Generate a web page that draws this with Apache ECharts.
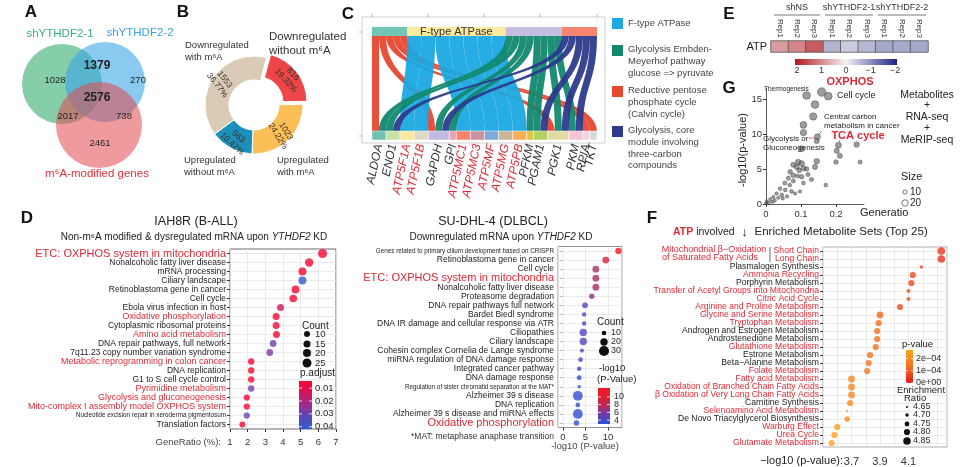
<!DOCTYPE html>
<html><head><meta charset="utf-8"><title>Figure</title>
<script src="https://cdn.jsdelivr.net/npm/echarts@6/dist/echarts.min.js"></script>
<style>html,body{margin:0;padding:0;background:#fff;}#chart{width:960px;height:467px;}</style>
</head><body><div id="chart"></div>
<script>
// ======================= DATA =======================
// A: Venn
const vennSetNames = ['shYTHDF2-1', 'shYTHDF2-2', 'm⁶A-modified genes'];
const vennRegionKeys = ['1', '2', '3', '12', '13', '23', '123'];
const vennRegionCounts = [1028, 270, 2461, 1379, 2017, 738, 2576];

// B: donut
const pieCategories = ['Downregulated without m⁶A', 'Upregulated with m⁶A', 'Upregulated without m⁶A', 'Downregulated with m⁶A'];
const pieCounts = [816, 1023, 563, 1553];
const piePercents = ['19.32%', '24.22%', '10.42%', '36.77%'];

// C: alluvial (pathway -> gene)
const pathways = ['Reductive pentose phosphate cycle (Calvin cycle)', 'F-type ATPase', 'Glycolysis Embden-Meyerhof pathway glucose => pyruvate', 'Glycolysis, core module involving three-carbon compounds'];
const genes = ['ALDOA', 'ENO1', 'ATP5F1A', 'ATP5F1B', 'GAPDH', 'GPI', 'ATP5MC1', 'ATP5MC3', 'ATP5MF', 'ATP5MG', 'ATP5PB', 'PFKM', 'PGAM1', 'PGK1', 'PKM', 'RPIA', 'TKT'];
const pathwayGenes = [
  ['ALDOA', 'GAPDH', 'PGK1', 'RPIA', 'TKT'],
  ['ATP5F1A', 'ATP5F1B', 'ATP5MC1', 'ATP5MC3', 'ATP5MF', 'ATP5MG', 'ATP5PB'],
  ['ALDOA', 'ENO1', 'GAPDH', 'GPI', 'PFKM', 'PGAM1', 'PGK1', 'PKM'],
  ['ENO1', 'GAPDH', 'PGAM1', 'PGK1', 'PKM']
];
const pathwayGeneWeights = [
  [1, 1, 1, 1, 1],
  [2, 2, 2, 2, 2, 2, 2],
  [1, 1, 1, 1, 1, 1, 1, 1],
  [1, 1, 1, 1, 1]
];
const legendOrderC = [1, 2, 0, 3];
const legendTextC = ['F-type ATPase', 'Glycolysis Embden-\nMeyerhof pathway\nglucose => pyruvate', 'Reductive pentose\nphosphate cycle\n(Calvin cycle)', 'Glycolysis, core\nmodule involving\nthree-carbon\ncompounds'];
const alluvialTitle = 'SU-DHL-4 (DLBCL)';

// D left: IAH8R
const dLeftTitle = 'IAH8R (B-ALL)';
const dLeftTerms = ['ETC: OXPHOS system in mitochondria', 'Nonalcoholic fatty liver disease', 'mRNA processing', 'Ciliary landscape', 'Retinoblastoma gene in cancer', 'Cell cycle', 'Ebola virus infection in host', 'Oxidative phosphorylation', 'Cytoplasmic ribosomal proteins', 'Amino acid metabolism', 'DNA repair pathways, full network', '7q11.23 copy number variation syndrome', 'Metabolic reprogramming in colon cancer', 'DNA replication', 'G1 to S cell cycle control', 'Pyrimidine metabolism', 'Glycolysis and gluconeogenesis', 'Mito-complex I assembly model OXPHOS system', 'Nucleotide excision repair in xeroderma pigmentosum', 'Translation factors'];
const dLeftRatio = [6.24, 5.48, 5.1, 5.1, 4.71, 4.58, 3.86, 3.61, 3.61, 3.63, 3.44, 3.25, 2.2, 2.2, 2.2, 2.2, 1.95, 1.95, 1.95, 1.7];
const dLeftCount = [25, 22, 20, 20, 19, 18, 15, 15, 15, 15, 14, 14, 12, 12, 12, 12, 11, 11, 11, 10];
const dLeftPadj = [0.004, 0.005, 0.005, 0.04, 0.005, 0.005, 0.014, 0.005, 0.005, 0.005, 0.028, 0.027, 0.005, 0.005, 0.005, 0.028, 0.006, 0.006, 0.031, 0.006];
const dLeftCountTicks = [10, 15, 20, 25];
const dLeftPadjTicks = [0.01, 0.02, 0.03, 0.04];

// D right: SU-DHL-4
const dRightTerms = ['Genes related to primary cilium development based on CRISPR', 'Retinoblastoma gene in cancer', 'Cell cycle', 'ETC: OXPHOS system in mitochondria', 'Nonalcoholic fatty liver disease', 'Proteasome degradation', 'DNA repair pathways full network', 'Bardet Biedl syndrome', 'DNA IR damage and cellular response via ATR', 'Ciliopathies', 'Ciliary landscape', 'Cohesin complex Cornelia de Lange syndrome', 'miRNA regulation of DNA damage response', 'Integrated cancer pathway', 'DNA damage response', 'Regulation of sister chromatid separation at the MAT*', 'Alzheimer 39 s disease', 'DNA replication', 'Alzheimer 39 s disease and miRNA effects', 'Oxidative phosphorylation'];
const dRightLogP = [12.3, 9.5, 7.3, 7.3, 7.3, 6.4, 4.9, 4.7, 4.7, 4.5, 4.5, 4.2, 3.9, 3.6, 3.6, 3.6, 3.3, 3.3, 3.3, 3.0];
const dRightCount = [16, 18, 18, 18, 18, 13, 14, 9, 9, 20, 20, 8, 10, 9, 11, 5, 29, 10, 29, 13];
const dRightCountTicks = [10, 20, 30];
const dRightColorTicks = [10, 8, 6, 4];

// E: heatmap
const heatGroups = ['shNS', 'shYTHDF2-1', 'shYTHDF2-2'];
const heatReps = ['Rep1', 'Rep2', 'Rep3', 'Rep1', 'Rep2', 'Rep3', 'Rep1', 'Rep2', 'Rep3'];
const heatRows = ['ATP'];
const heatValues = [0.8, 1.0, 1.35, -0.62, -0.38, -0.58, -0.72, -0.7, -0.72];
const heatTicks = [2, 1, 0, -1, -2];

// F: enriched metabolite sets
const fTerms = ['Short Chain', 'Long Chain', 'Plasmalogen Synthesis', 'Ammonia Recycling', 'Porphyrin Metabolism', 'Transfer of Acetyl Groups into Mitochondria', 'Citric Acid Cycle', 'Arginine and Proline Metabolism', 'Glycine and Serine Metabolism', 'Tryptophan Metabolism', 'Androgen and Estrogen Metabolism', 'Androstenedione Metabolism', 'Glutathione Metabolism', 'Estrone Metabolism', 'Beta−Alanine Metabolism', 'Folate Metabolism', 'Fatty acid Metabolism', 'Oxidation of Branched Chain Fatty Acids', 'β Oxidation of Very Long Chain Fatty Acids', 'Carnitine Synthesis', 'Selenoamino Acid Metabolism', 'De Novo Triacylglycerol Biosynthesis', 'Warburg Effect', 'Urea Cycle', 'Glutamate Metabolism'];
const fLogP = [4.33, 4.33, 4.19, 4.13, 4.12, 4.10, 4.10, 4.04, 3.90, 3.89, 3.88, 3.88, 3.87, 3.83, 3.82, 3.81, 3.70, 3.70, 3.70, 3.69, 3.67, 3.67, 3.60, 3.58, 3.56];
const fRatio = [4.85, 4.85, 4.70, 4.80, 4.80, 4.72, 4.72, 4.80, 4.82, 4.80, 4.80, 4.80, 4.80, 4.80, 4.80, 4.80, 4.82, 4.82, 4.82, 4.80, 4.66, 4.78, 4.80, 4.80, 4.80];
const fAtpInvolved = [true, true, false, true, false, true, true, true, true, true, false, false, true, false, false, true, true, true, true, false, true, false, true, true, true];
const fPTicks = [2e-4, 1e-4, 0];
const fPTickLabels = ['2e−04', '1e−04', '0e+00'];
const fRatioTicks = [4.65, 4.70, 4.75, 4.80, 4.85];

// G: joint pathway scatter
const gX = [0.159, 0.116, 0.178, 0.140, 0.135, 0.107, 0.107, 0.147, 0.145, 0.207, 0.259, 0.102, 0.202, 0.211, 0.200, 0.269, 0.145, 0.140, 0.171, 0.092, 0.102, 0.078, 0.088, 0.107, 0.095, 0.116, 0.069, 0.078, 0.090, 0.102, 0.064, 0.078, 0.107, 0.054, 0.068, 0.040, 0.055, 0.073, 0.097, 0.030, 0.045, 0.083, 0.021, 0.035, 0.012, 0.002, 0.025, 0.048, 0.060, 0.008, 0.018, 0.000, 0.120, 0.130];
const gY = [16.0, 15.5, 15.4, 14.2, 12.5, 11.3, 10.2, 9.6, 9.0, 8.4, 8.5, 7.9, 7.6, 6.9, 6.0, 6.0, 6.1, 5.3, 2.7, 6.0, 5.8, 5.6, 5.3, 5.1, 4.8, 5.0, 4.6, 4.1, 4.0, 3.9, 3.7, 3.3, 3.0, 3.0, 2.7, 2.2, 2.0, 1.8, 1.8, 1.5, 1.3, 1.5, 1.0, 0.9, 0.7, 0.4, 0.5, 0.8, 1.1, 0.2, 0.3, 0.1, 4.2, 3.5];
const gSize = [30, 26, 26, 26, 24, 22, 20, 18, 14, 18, 16, 18, 14, 14, 12, 10, 16, 14, 8, 16, 16, 14, 14, 14, 12, 12, 12, 12, 10, 12, 10, 10, 8, 10, 8, 8, 8, 8, 6, 6, 8, 6, 6, 6, 5, 5, 6, 6, 6, 5, 5, 5, 10, 10];
const gSizeTicks = [10, 20];

// ======================= STYLE =======================
const FONT = '"Liberation Sans", Arial, Helvetica, sans-serif';
const RED = '#dd2a35';
const INK = '#2a2a2a';
const pathwayFlowColors = ['#e8472e', '#1ba9e1', '#12896f', '#2c3b8d'];
const pathwayBarColors = ['#72c6b6', '#fcea9f', '#c5bee1', '#f7846f'];
const geneBarColors = ['#70c2b2', '#c7e2a8', '#fce79c', '#e1d9c3', '#c2bae0', '#e9a3b3', '#f8826c', '#c9939c', '#7daad8', '#c9b59c', '#fcae52', '#e0c445', '#b3d263', '#e2daa3', '#f8c2d8', '#f1d2e1', '#d9d9d9'];
const pieColors = ['#ee4548', '#fcbf58', '#1c90ba', '#dacbb7'];
const pieLabelRotate = [-48, -58, -42, -52];
const vennFill = ['rgba(70,180,125,0.66)', 'rgba(60,165,230,0.60)', 'rgba(226,72,78,0.55)'];
const vennText = ['#3aae79', '#38a2df', '#e0303a'];

const sizeDL = c => 4 + 0.2 * c;
const sizeDR = c => 2 + 0.27 * c;
const sizeF = r => 2 + (r - 4.65) * 28;
const sizeG = s => 2 + 0.22 * s;

const dlColors = ['#f8062e', '#d4145e', '#9c2c8e', '#5a48b8', '#2f5cd2'];
const dlMin = 0.0044, dlMax = 0.0418;
const drColors = ['#2b4fd6', '#6a3eb0', '#b42c5a', '#e01e30', '#f21a22'];
const drMin = 3.0, drMax = 12.3;
const fColors = ['#e3191c', '#f37021', '#fca61d'];
const fPMax = 2.7e-4;
const heatColors = ['#1b2183', '#f4f4f4', '#b2151d'];

// ======================= GRAPHICS HELPERS =======================
const GR = [];
function T(x, y, text, o) {
  o = o || {};
  const st = { text: text, fill: o.fill || INK, fontSize: o.size || 10, fontWeight: o.weight || 'normal', fontStyle: o.fstyle || 'normal', fontFamily: FONT, align: o.align || 'left', verticalAlign: o.va || 'middle' };
  if (o.lh) st.lineHeight = o.lh;
  if (o.rich) st.rich = o.rich;
  GR.push({ type: 'text', x: x, y: y, rotation: o.rot || 0, silent: true, z: 100, style: st });
}
function C(cx, cy, r, fill, stroke, z) {
  GR.push({ type: 'circle', shape: { cx: cx, cy: cy, r: r }, silent: true, z: z || 50, style: { fill: fill, stroke: stroke || null, lineWidth: 0.8 } });
}
function L(x1, y1, x2, y2, stroke, w, z) {
  GR.push({ type: 'line', shape: { x1: x1, y1: y1, x2: x2, y2: y2 }, silent: true, z: z || 60, style: { stroke: stroke || '#555', lineWidth: w || 0.8 } });
}
function R(x, y, w, h, fill, stroke, z) {
  GR.push({ type: 'rect', shape: { x: x, y: y, width: w, height: h }, silent: true, z: z || 40, style: { fill: fill || null, stroke: stroke || null, lineWidth: 0.8 } });
}
function grad(x0, y0, x1, y1, cols) {
  return new echarts.graphic.LinearGradient(x0, y0, x1, y1, cols.map((c, i) => ({ offset: i / (cols.length - 1), color: c })));
}

// panel letters
[['A', 31, 12], ['B', 183, 12], ['C', 348, 14], ['D', 27, 218], ['E', 729, 14], ['F', 652, 218], ['G', 729, 88]].forEach(p => T(p[1], p[2], p[0], { size: 17, weight: 'bold', align: 'center', fill: '#111' }));

// ---------- A: Venn ----------
C(62, 84, 40, vennFill[0], null, 10);
C(105, 82, 40, vennFill[1], null, 11);
C(99, 125, 43, vennFill[2], null, 12);
T(60, 34, vennSetNames[0], { size: 11.5, fill: vennText[0], align: 'center' });
T(140, 33, vennSetNames[1], { size: 11.5, fill: vennText[1], align: 'center' });
T(97, 174, vennSetNames[2], { size: 11.5, fill: vennText[2], align: 'center' });
const vennPos = { '1': [55, 80], '2': [138, 80], '3': [100, 143], '12': [97, 66], '13': [68, 116], '23': [124, 116], '123': [97, 98] };
vennRegionKeys.forEach((k, i) => {
  const bold = (k === '12' || k === '123');
  T(vennPos[k][0], vennPos[k][1], String(vennRegionCounts[i]), { size: bold ? 12 : 9.5, weight: bold ? 'bold' : 'normal', align: 'center', fill: '#222' });
});

// ---------- B: donut outer labels ----------
const pieLabelPos = [[269, 30, 11.5, 14], [277, 154, 9.5, 12], [184, 154, 9.5, 12], [185, 39, 9.5, 12]];
pieCategories.forEach((c, i) => {
  const p = pieLabelPos[i];
  T(p[0], p[1], c.replace(' ', '\n'), { size: p[2], lh: p[3], va: 'top', fill: '#333' });
});

// ---------- C: frame + legend ----------
R(362, 17, 243, 126, null, '#c4c4c4', 5);
[372, 428, 484, 540, 597].forEach(x => L(x, 14, x, 17, '#aaa', 0.8));
[32, 136].forEach(y => L(359, y, 362, y, '#aaa', 0.8));
const legTopsC = [18, 45, 86, 126];
legendOrderC.forEach((pi, k) => {
  R(612, legTopsC[k], 11, 11, pathwayFlowColors[pi], null, 40);
  const lines = legendTextC[k].split('\n').length;
  T(628, legTopsC[k] + (lines === 1 ? 5.5 : -1), legendTextC[k], { size: 9.5, lh: 11.6, va: lines === 1 ? 'middle' : 'top', fill: '#444' });
});

// ---------- D titles ----------
T(196, 222, dLeftTitle, { size: 12.5, align: 'center', fill: '#222' });
T(194, 237, '{n|Non-m⁶A modified & dysregulated mRNA upon }{i|YTHDF2}{n| KD}', { align: 'center', rich: { n: { fontSize: 10, fontFamily: FONT, fill: '#222' }, i: { fontSize: 10, fontStyle: 'italic', fontFamily: FONT, fill: '#222' } } });
T(493, 222, alluvialTitle, { size: 12.5, align: 'center', fill: '#222' });
T(501, 237, '{n|Downregulated mRNA upon }{i|YTHDF2}{n| KD}', { align: 'center', rich: { n: { fontSize: 10, fontFamily: FONT, fill: '#222' }, i: { fontSize: 10, fontStyle: 'italic', fontFamily: FONT, fill: '#222' } } });
T(221, 442, 'GeneRatio (%):', { size: 9.5, align: 'right', fill: '#444' });
T(585, 446, '-log10 (P-value)', { size: 9.5, align: 'center', fill: '#444' });
T(554, 437, '*MAT: metaphase anaphase transition', { size: 8.5, align: 'right', fill: '#333' });

// D left legend
T(302, 326, 'Count', { size: 10, fill: '#222' });
const dlLegY = [334, 344, 353, 363];
dLeftCountTicks.forEach((c, i) => { C(307, dlLegY[i], sizeDL(c) / 2, '#111', null, 70); T(315, dlLegY[i], String(c), { size: 9.5 }); });
T(300, 373, 'p.adjust', { size: 10, fill: '#222' });
R(299, 381, 13, 48, grad(0, 0, 0, 1, dlColors), null, 60);
dLeftPadjTicks.forEach(v => {
  const y = 381 + (v - dlMin) / (dlMax - dlMin) * 48;
  L(299, y, 302, y, '#fff', 0.8, 65); L(309, y, 312, y, '#fff', 0.8, 65);
  T(315, y, v.toFixed(2), { size: 9.5 });
});
// D right legend
T(597, 322, 'Count', { size: 10, fill: '#222' });
const drLegY = [333, 342, 351];
dRightCountTicks.forEach((c, i) => { C(604, drLegY[i], sizeDR(c) / 2, '#111', null, 70); T(611, drLegY[i], String(c), { size: 9 }); });
T(599, 368, '-log10', { size: 9.5, fill: '#222' });
T(597, 379, '(P-Value)', { size: 9.5, fill: '#222' });
R(598, 388, 12, 36, grad(0, 1, 0, 0, drColors), null, 60);
dRightColorTicks.forEach(v => {
  const y = 388 + (drMax - v) / (drMax - drMin) * 36;
  L(598, y, 601, y, '#fff', 0.8, 65); L(607, y, 610, y, '#fff', 0.8, 65);
  T(614, y, String(v), { size: 9 });
});

// ---------- E: heatmap annotations ----------
const heatGroupX = [[774, 820], [825, 873], [878, 926]];
heatGroups.forEach((g, i) => {
  const a = heatGroupX[i];
  T((a[0] + a[1]) / 2, 8, g, { size: 9, align: 'center', fill: '#333' });
  L(a[0], 15, a[1], 15, '#555', 0.8);
});
R(795, 59, 102, 6, grad(0, 0, 1, 0, heatColors.slice().reverse()), null, 40);
heatTicks.forEach(v => T(797 + (2 - v) / 4 * 98, 71, v < 0 ? '−' + Math.abs(v) : String(v), { size: 9, align: 'center', fill: '#333' }));

// ---------- F: header & legend ----------
T(673, 232, '{r|ATP}{k| involved }{a| ↓ }{t| Enriched Metabolite Sets (Top 25)}', { rich: { r: { fill: RED, fontWeight: 'bold', fontSize: 10.5, fontFamily: FONT }, k: { fill: '#222', fontSize: 10.5, fontFamily: FONT }, a: { fill: '#222', fontSize: 13, fontFamily: FONT }, t: { fill: '#222', fontSize: 11.5, fontFamily: FONT } } });
T(714, 250, 'Mitochondrial β−Oxidation', { size: 9, align: 'center', fill: RED });
T(710, 258, 'of Saturated Fatty Acids', { size: 9, align: 'center', fill: RED });
L(770, 247, 770, 262, '#444', 0.8);
T(843, 461, '−log10 (p-value):', { size: 11, align: 'right', fill: '#222' });
T(902, 344, 'p-value', { size: 9.5, fill: '#222' });
R(906, 350, 7, 33, grad(0, 1, 0, 0, fColors), null, 60);
fPTicks.forEach((v, i) => {
  const y = 383 - v / fPMax * 33;
  L(906, y, 908, y, '#fff', 0.8, 65); L(911, y, 913, y, '#fff', 0.8, 65);
  T(916, y, fPTickLabels[i], { size: 9 });
});
T(897, 390, 'Enrichment', { size: 9.5, fill: '#222' });
T(904, 398, 'Ratio', { size: 9.5, fill: '#222' });
const fLegY = [407, 415, 424, 432, 441];
fRatioTicks.forEach((r, i) => { C(907, fLegY[i], sizeF(r) / 2, '#111', null, 70); T(913, fLegY[i], r.toFixed(2), { size: 9 }); });

// ---------- G: annotations ----------
T(743, 150, '-log10(p-value)', { size: 11, align: 'center', rot: Math.PI / 2, fill: '#222' });
T(860, 213, 'Generatio', { size: 11, fill: '#222' });
T(764, 89, 'Thermogenesis', { size: 6.5, fill: '#222' });
T(850, 82, 'OXPHOS', { size: 11, weight: 'bold', align: 'center', fill: RED });
T(837, 96, 'Cell cycle', { size: 9, fill: '#222' });
T(824, 112, 'Central carbon\nmetabolism in cancer', { size: 8, lh: 9.5, va: 'top', fill: '#222' });
T(763, 134, 'Glycolysis or\nGluconeogenesis', { size: 8, lh: 9.5, va: 'top', fill: '#222' });
T(858, 136, 'TCA cycle', { size: 11, weight: 'bold', align: 'center', fill: RED });
L(822, 131, 818, 135, '#777'); L(809, 138, 815, 138, '#c44'); L(840, 140, 839, 143, '#777');
['Metabolites', '+', 'RNA-seq', '+', 'MeRIP-seq'].forEach((s, i) => T(927, [95, 105, 117, 128, 140][i], s, { size: 10.5, align: 'center', fill: '#222' }));
T(901, 177, 'Size', { size: 11, fill: '#222' });
gSizeTicks.forEach((s, i) => { C(905, 192 + i * 11, sizeG(s) / 2, null, '#555', 70); T(910, 192 + i * 11, String(s), { size: 10 }); });

// ======================= OPTION =======================
const dlRed = new Set(['Oxidative phosphorylation', 'Amino acid metabolism', 'Metabolic reprogramming in colon cancer', 'Pyrimidine metabolism', 'Glycolysis and gluconeogenesis', 'Mito-complex I assembly model OXPHOS system']);
const dlBig = new Set(['ETC: OXPHOS system in mitochondria']);
const dlSmall = new Set(['Nucleotide excision repair in xeroderma pigmentosum']);
const drBig = new Set(['ETC: OXPHOS system in mitochondria', 'Oxidative phosphorylation']);
const drSmall = new Set(['Genes related to primary cilium development based on CRISPR', 'Regulation of sister chromatid separation at the MAT*']);

const rich = {
  n: { fontSize: 8.5, fontFamily: FONT, color: '#222' },
  r: { fontSize: 9, fontFamily: FONT, color: RED },
  big: { fontSize: 11, fontFamily: FONT, color: RED },
  sm: { fontSize: 6.3, fontFamily: FONT, color: '#222' },
  fr: { fontSize: 8.6, fontFamily: FONT, color: RED },
  fn: { fontSize: 8.6, fontFamily: FONT, color: '#222' }
};

function catAxis(grid, data, fmt) {
  return { type: 'category', gridIndex: grid, data: data, inverse: true, axisLine: { show: false }, axisTick: { show: true, length: 3, alignWithLabel: true, lineStyle: { color: '#333' } }, axisLabel: { interval: 0, margin: 4, formatter: fmt, rich: rich }, splitLine: { show: false } };
}
function gridLinesAxis(grid, data, len) {
  return { type: 'category', gridIndex: grid, data: data, inverse: true, axisLine: { show: false }, axisLabel: { show: false }, axisTick: { show: true, inside: true, length: len, alignWithLabel: true, interval: 0, lineStyle: { color: '#e6e6e6', width: 0.8 } }, splitLine: { show: false } };
}

const option = {
  animation: false,
  textStyle: { fontFamily: FONT },
  grid: [
    { left: 230, top: 249, width: 106, height: 180, show: true, borderColor: '#444', borderWidth: 0.8 },
    { left: 558, top: 246.5, width: 64, height: 181, show: true, borderColor: '#777', borderWidth: 0.8 },
    { left: 823, top: 247, width: 124, height: 200, show: true, borderColor: '#999', borderWidth: 0.8 },
    { left: 766, top: 88.5, width: 98, height: 115.5 },
    { left: 771, top: 41, width: 157, height: 11 }
  ],
  xAxis: [
    { type: 'value', gridIndex: 0, min: 1, max: 7, interval: 1, axisLine: { show: false }, axisTick: { show: true, length: 3, lineStyle: { color: '#333' } }, axisLabel: { fontSize: 9.5, color: '#333', margin: 8 }, splitLine: { show: true, lineStyle: { color: '#e6e6e6', width: 0.8 } } },
    { type: 'value', gridIndex: 1, min: -1.1, max: 13.1, minInterval: 5, maxInterval: 5, axisLine: { show: false }, axisTick: { show: true, length: 3, lineStyle: { color: '#333' } }, axisLabel: { fontSize: 9.5, color: '#333', margin: 5, showMinLabel: false, showMaxLabel: false, formatter: v => (Math.abs(v % 5) < 1e-9 ? String(v) : '') }, splitLine: { show: true, lineStyle: { color: '#e6e6e6', width: 0.8 } } },
    { type: 'value', gridIndex: 2, min: 3.5, max: 4.37, interval: 0.1, axisLine: { show: false }, axisTick: { show: false }, axisLabel: { fontSize: 11, color: '#333', margin: 9, showMaxLabel: false, formatter: v => { const s = v.toFixed(1); return (s === '3.7' || s === '3.9' || s === '4.1') ? s : ''; } }, splitLine: { show: true, lineStyle: { color: '#e6e6e6', width: 0.8 } } },
    { type: 'value', gridIndex: 3, min: 0, max: 0.28, interval: 0.1, axisLine: { show: true, lineStyle: { color: '#333', width: 0.8 } }, axisTick: { show: true, length: 3 }, axisLabel: { fontSize: 9.5, color: '#333', margin: 5, showMaxLabel: false, formatter: v => { const r = Math.round(v * 10) / 10; return (Math.abs(v - r) < 1e-6 && r <= 0.2) ? String(r) : ''; } }, splitLine: { show: false } },
    { type: 'category', gridIndex: 4, data: heatReps, position: 'top', axisLine: { show: false }, axisTick: { show: false }, axisLabel: { rotate: 90, fontSize: 8, color: '#333', margin: 3, interval: 0 } }
  ],
  yAxis: [
    catAxis(0, dLeftTerms, v => dlBig.has(v) ? '{big|' + v + '}' : dlRed.has(v) ? '{r|' + v + '}' : dlSmall.has(v) ? '{sm|' + v + '}' : '{n|' + v + '}'),
    catAxis(1, dRightTerms, v => drBig.has(v) ? '{big|' + v + '}' : drSmall.has(v) ? '{sm|' + v + '}' : '{n|' + v + '}'),
    catAxis(2, fTerms, v => fAtpInvolved[fTerms.indexOf(v)] ? '{fr|' + v + '}' : '{fn|' + v + '}'),
    { type: 'value', gridIndex: 3, min: 0, max: 16.5, interval: 5, axisLine: { show: true, lineStyle: { color: '#333', width: 0.8 } }, axisTick: { show: true, length: 3 }, axisLabel: { fontSize: 9.5, color: '#333', margin: 4, showMaxLabel: false, formatter: v => (v % 5 === 0 && v <= 15 ? String(v) : '') }, splitLine: { show: false } },
    { type: 'category', gridIndex: 4, data: heatRows, axisLine: { show: false }, axisTick: { show: false }, axisLabel: { fontSize: 11, color: '#222', margin: 4 } },
    gridLinesAxis(0, dLeftTerms, 106),
    gridLinesAxis(1, dRightTerms, 64),
    gridLinesAxis(2, fTerms, 124)
  ],
  visualMap: [
    { type: 'continuous', show: false, seriesIndex: 0, dimension: 2, min: dlMin, max: dlMax, inRange: { color: dlColors } },
    { type: 'continuous', show: false, seriesIndex: 1, dimension: 0, min: drMin, max: drMax, inRange: { color: drColors } },
    { type: 'continuous', show: false, seriesIndex: 2, dimension: 3, min: 0, max: fPMax, inRange: { color: fColors } },
    { type: 'continuous', show: false, seriesIndex: 4, dimension: 2, min: -2, max: 2, inRange: { color: heatColors } }
  ],
  series: [
    { type: 'scatter', xAxisIndex: 0, yAxisIndex: 0, silent: true, z: 5,
      data: dLeftTerms.map((t, i) => [dLeftRatio[i], i, dLeftPadj[i], dLeftCount[i]]),
      symbolSize: v => sizeDL(v[3]) },
    { type: 'scatter', xAxisIndex: 1, yAxisIndex: 1, silent: true, z: 5,
      data: dRightTerms.map((t, i) => [dRightLogP[i], i, dRightCount[i]]),
      symbolSize: v => sizeDR(v[2]) },
    { type: 'scatter', xAxisIndex: 2, yAxisIndex: 2, silent: true, z: 5,
      data: fTerms.map((t, i) => [fLogP[i], i, fRatio[i], Math.pow(10, -fLogP[i])]),
      symbolSize: v => sizeF(v[2]) },
    { type: 'scatter', xAxisIndex: 3, yAxisIndex: 3, silent: true, z: 5,
      data: gX.map((x, i) => [x, gY[i], gSize[i]]),
      symbolSize: v => sizeG(v[2]),
      itemStyle: { color: 'rgba(85,85,85,0.72)', borderColor: '#333', borderWidth: 0.5 } },
    { type: 'heatmap', xAxisIndex: 4, yAxisIndex: 4, silent: true,
      data: heatValues.map((v, i) => [i, 0, v]),
      itemStyle: { borderColor: '#555', borderWidth: 0.8 } },
    { type: 'pie', center: [254, 105], radius: [25, 49], startAngle: 75, clockwise: true, silent: true,
      selectedMode: 'single', selectedOffset: 5, avoidLabelOverlap: false,
      itemStyle: { borderColor: '#fff', borderWidth: 1 },
      label: { show: true, position: 'inside', fontSize: 8.5, lineHeight: 9.5, color: '#3a2f28', formatter: p => p.value + '\n' + piePercents[p.dataIndex] },
      labelLine: { show: false },
      data: pieCategories.map((c, i) => ({ name: c, value: pieCounts[i], selected: i === 0, itemStyle: { color: pieColors[i] }, label: { rotate: pieLabelRotate[i] } })) },
    { type: 'sankey', orient: 'vertical', left: 372, top: 27, width: 225, height: 113,
      nodeWidth: 9, nodeGap: 0, layoutIterations: 0, draggable: false, silent: true,
      emphasis: { disabled: true },
      lineStyle: { opacity: 0.95, curveness: 0.5 },
      data: pathways.map((p, i) => ({ name: p, itemStyle: { color: pathwayBarColors[i], borderWidth: 0 }, label: { show: i === 1, position: 'inside', formatter: 'F-type ATPase', color: '#333', fontSize: 11 } }))
        .concat(genes.map((g, i) => ({ name: g, itemStyle: { color: geneBarColors[i], borderColor: '#fff', borderWidth: 0.5 }, label: { show: true, position: 'bottom', distance: 4, rotate: 78, align: 'right', verticalAlign: 'middle', fontSize: 12, fontStyle: 'italic', color: g.indexOf('ATP5') === 0 ? RED : '#333' } }))),
      links: [].concat.apply([], pathwayGenes.map((gl, pi) => gl.map((g, k) => ({ source: pathways[pi], target: g, value: pathwayGeneWeights[pi][k], lineStyle: { color: pathwayFlowColors[pi] } }))))
    }
  ],
  graphic: { elements: GR }
};

const chart = echarts.init(document.getElementById('chart'), null, { renderer: 'canvas', width: 960, height: 467 });
chart.setOption(option);
</script></body></html>
